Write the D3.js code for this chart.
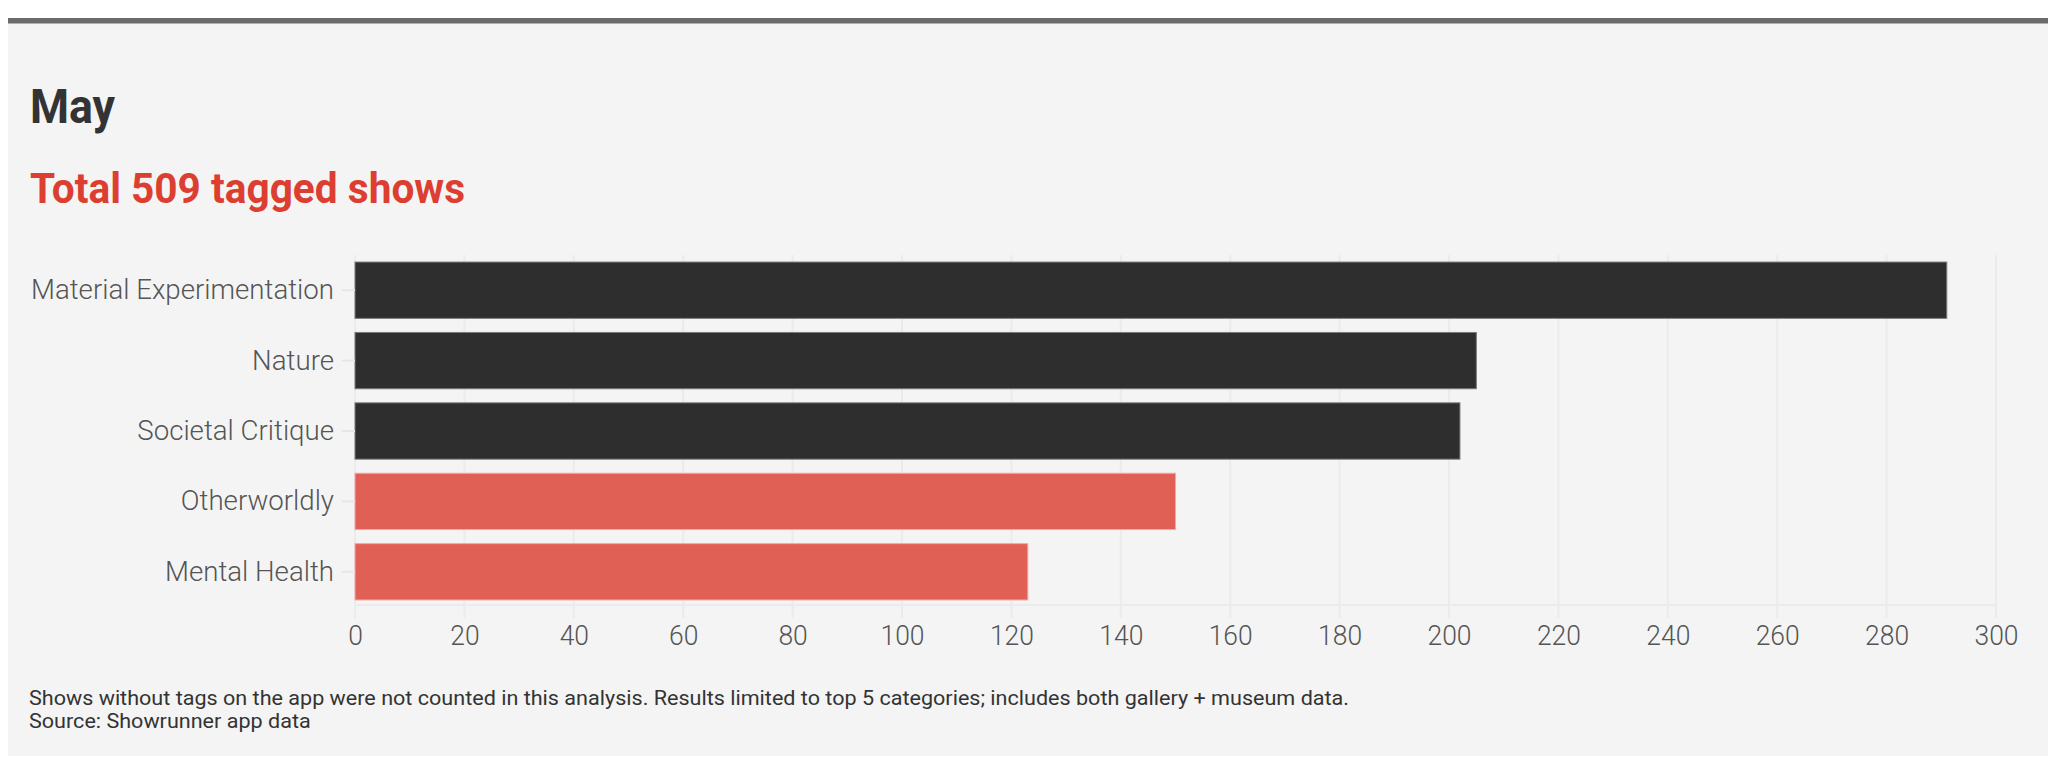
<!DOCTYPE html>
<html>
<head>
<meta charset="utf-8">
<script src="https://cdn.jsdelivr.net/npm/d3@7"></script>
<style>
  body { margin: 0; background: #fff; }
  svg text { font-family: Roboto, "Noto Sans", sans-serif; }
</style>
</head>
<body>
<svg id="chart" width="2060" height="768"></svg>
<script>
// data
var categories = ["Material Experimentation", "Nature", "Societal Critique", "Otherworldly", "Mental Health"];
var counts = [291, 205, 202, 150, 123];
var highlighted = [false, false, false, true, true];
var xTicks = [0, 20, 40, 60, 80, 100, 120, 140, 160, 180, 200, 220, 240, 260, 280, 300];
var title = "May";
var subtitle = "Total 509 tagged shows";
var notes = [
	"Shows without tags on the app were not counted in this analysis. Results limited to top 5 categories; includes both gallery + museum data.",
	"Source: Showrunner app data"
];

var svg = d3.select("#chart");

// the reference font is narrower than Roboto: squeeze a group of texts so that
// the sample one gets the width it has in the reference
function squeeze(sel, sample, target) {
	var ratio = target / sample.node().getComputedTextLength();
	sel.each(function() {
		var w = this.getComputedTextLength();
		d3.select(this).attr("textLength", w * ratio).attr("lengthAdjust", "spacingAndGlyphs");
	});
}

/**
 * ----------------------------------------------------------------------------------------------------------
 * Panel
 */
svg.append("rect").attr("x", 8).attr("y", 18).attr("width", 2040).attr("height", 738).attr("fill", "#f4f4f4");
svg.append("rect").attr("x", 8).attr("y", 18).attr("width", 2040).attr("height", 5.5).attr("fill", "#6b6b6b");

var t = svg.append("text").attr("x", 30).attr("y", 123).attr("font-size", 49)
	.attr("font-weight", 700).attr("fill", "#333").text(title);
squeeze(t, t, 85);

var st = svg.append("text").attr("x", 30).attr("y", 203).attr("font-size", 42)
	.attr("font-weight", 700).attr("fill", "#dc3f31").text(subtitle);
squeeze(st, st, 435);

/**
 * ----------------------------------------------------------------------------------------------------------
 * Scales
 */
var x = d3.scaleLinear().domain([0, 300]).range([355, 1996]);
var y = d3.scaleBand().domain(categories).range([255, 607]).paddingInner(0.2).paddingOuter(0.1);

// grid lines (they also serve as ticks below the axis line)
svg.append("g").selectAll("line").data(xTicks).join("line")
	.attr("x1", function(d) { return x(d); })
	.attr("x2", function(d) { return x(d); })
	.attr("y1", 255).attr("y2", 618)
	.attr("stroke", "#ebebeb").attr("stroke-width", 2);

svg.append("line").attr("x1", x(0)).attr("x2", x(300)).attr("y1", 605).attr("y2", 605)
	.attr("stroke", "#ebebeb").attr("stroke-width", 2);

// bars
var data = categories.map(function(c, i) { return { cat: c, v: counts[i], hi: highlighted[i] }; });
svg.append("g").selectAll("rect").data(data).join("rect")
	.attr("x", x(0))
	.attr("y", function(d) { return y(d.cat); })
	.attr("width", function(d) { return x(d.v) - x(0); })
	.attr("height", y.bandwidth())
	.attr("fill", function(d) { return d.hi ? "#e06055" : "#2e2e2e"; })
	.attr("stroke", function(d) { return d.hi ? "#f2a9a2" : "#7a7a7a"; })
	.attr("stroke-width", 1);

// x axis
var xAxis = svg.append("g").attr("transform", "translate(0,605)")
	.call(d3.axisBottom(x).tickValues(xTicks).tickSize(0).tickPadding(0));
xAxis.select(".domain").remove();
xAxis.selectAll("text").attr("font-size", 27).attr("fill", "#555")
	.attr("font-family", "Roboto, sans-serif").attr("font-weight", 300)
	.attr("dy", null).attr("y", 40);
squeeze(xAxis.selectAll("text"), xAxis.selectAll("text").filter(function(d) { return d === 300; }), 44);

// y axis
var yAxis = svg.append("g").attr("transform", "translate(" + x(0) + ",0)")
	.call(d3.axisLeft(y).tickSize(13).tickPadding(8));
yAxis.select(".domain").remove();
yAxis.selectAll(".tick line").attr("stroke", "#e6e6e6").attr("stroke-width", 2);
yAxis.selectAll("text").attr("font-size", 28).attr("fill", "#555")
	.attr("font-family", "Roboto, sans-serif").attr("font-weight", 300);
squeeze(yAxis.selectAll("text"), yAxis.selectAll("text").filter(function(d) { return d === categories[0]; }), 303);

/**
 * ----------------------------------------------------------------------------------------------------------
 * Notes
 */
var nt = svg.append("g").selectAll("text").data(notes).join("text")
	.attr("x", 29)
	.attr("y", function(d, i) { return 705 + i * 23; })
	.attr("font-size", 20).attr("fill", "#333")
	.text(function(d) { return d; });
squeeze(nt, nt.filter(function(d, i) { return i === 0; }), 1320);
</script>
</body>
</html>
